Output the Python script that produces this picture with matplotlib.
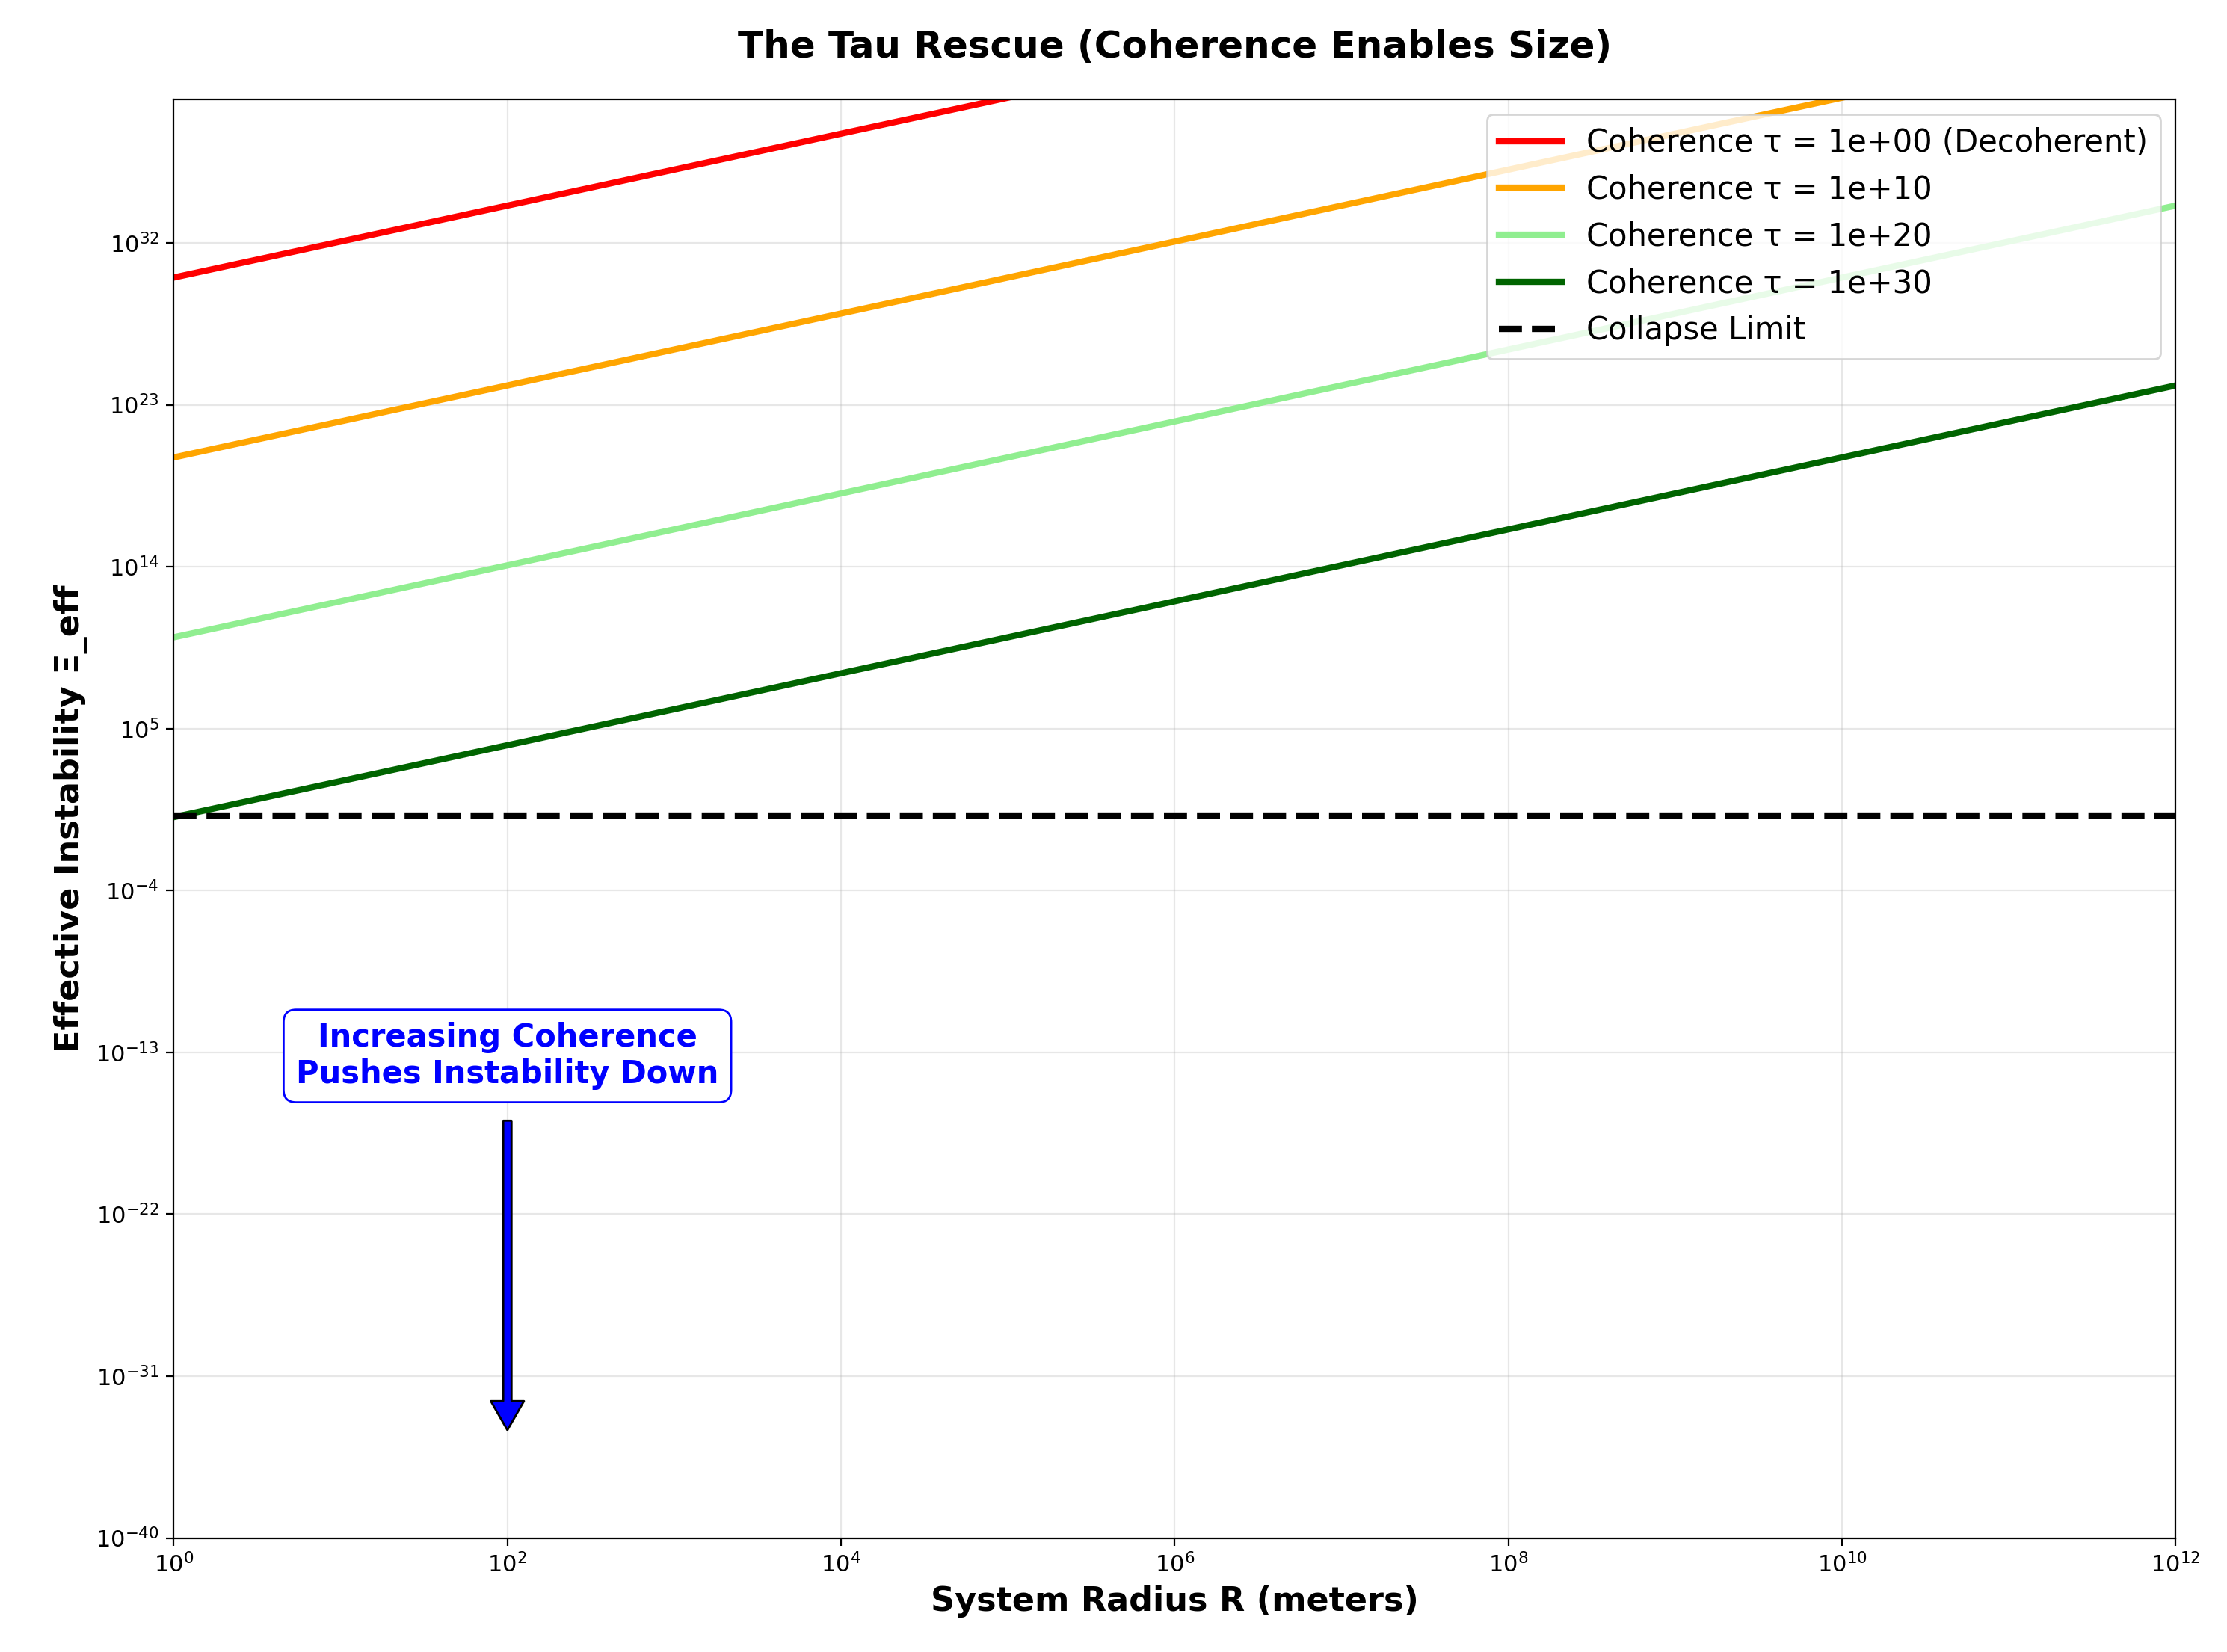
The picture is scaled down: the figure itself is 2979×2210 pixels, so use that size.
import numpy as np
import matplotlib
matplotlib.use("Agg")
import matplotlib.pyplot as plt

taus = [1e0, 1e10, 1e20, 1e30]
tau_labels = ["Coherence τ = 1e+00 (Decoherent)", "Coherence τ = 1e+10",
              "Coherence τ = 1e+20", "Coherence τ = 1e+30"]
colors = ["red", "orange", "lightgreen", "darkgreen"]
base = 1.2e30
exponent = 2
collapse_limit = 1.5

R = np.logspace(0, 12, 200)

fig = plt.figure(figsize=(14.895, 11.05), dpi=200)
ax = fig.add_axes([0.078, 0.069, 0.899, 0.871])
for tau, lab, c in zip(taus, tau_labels, colors):
    ax.loglog(R, base * R**exponent / tau, color=c, lw=3, label=lab)
ax.axhline(collapse_limit, color="black", ls="--", lw=3, label="Collapse Limit")
ax.set_xlim(1, 1e12)
ax.set_ylim(1e-40, 1e40)
ax.set_yticks([10.0**k for k in range(-40, 41, 9)])
ax.minorticks_off()
ax.tick_params(labelsize=11)
ax.grid(True, alpha=0.3)
ax.set_xlabel("System Radius R (meters)", fontsize=16, fontweight="bold")
ax.set_ylabel("Effective Instability Ξ_eff", fontsize=16, fontweight="bold")
ax.set_title("The Tau Rescue (Coherence Enables Size)", fontsize=18, fontweight="bold", pad=20)
ax.legend(loc="upper right", fontsize=15)
ax.annotate("", xy=(1e2, 10**-34), xytext=(1e2, 10**-16.8),
            arrowprops=dict(facecolor="blue", edgecolor="black", width=4, headwidth=16, headlength=14))
ax.text(1e2, 10**-13.2, "Increasing Coherence\nPushes Instability Down", ha="center", va="center",
        color="blue", fontsize=15, fontweight="bold",
        bbox=dict(boxstyle="round,pad=0.4", facecolor="white", edgecolor="blue"))
fig.savefig("out.png", dpi=200)
